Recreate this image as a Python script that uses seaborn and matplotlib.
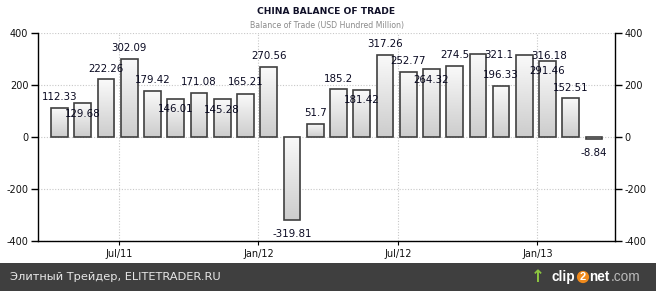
import numpy as np
import pandas as pd
import matplotlib
matplotlib.use("Agg")
import matplotlib.pyplot as plt
import seaborn as sns

months = ["Apr/11", "May/11", "Jun/11", "Jul/11", "Aug/11", "Sep/11", "Oct/11", "Nov/11",
          "Dec/11", "Jan/12", "Feb/12", "Mar/12", "Apr/12", "May/12", "Jun/12", "Jul/12",
          "Aug/12", "Sep/12", "Oct/12", "Nov/12", "Dec/12", "Jan/13", "Feb/13", "Mar/13"]
balance = [112.33, 129.68, 222.26, 302.09, 179.42, 146.01, 171.08, 145.28,
           165.21, 270.56, -319.81, 51.7, 185.2, 181.42, 317.26, 252.77,
           264.32, 274.5, 321.1, 196.33, 316.18, 291.46, 152.51, -8.84]
tick_labels = ["Jul/11", "Jan/12", "Jul/12", "Jan/13"]
y_ticks = [-400, -200, 0, 200, 400]

# label placement (pixels, down positive) - layout only
label_dy = [-11, 11, -10, -10.5, -11, 10, -10.5, 11, -12, -11, 14, -10.5,
            -10, 10, -10.5, -11, 11, -10.5, 1.5, -11, 1, 10, -10, 14]
label_dx = [0] * 24
label_dx[18] = 21
label_dx[20] = 25

df = pd.DataFrame({"month": months, "balance": balance})

sns.set_style("white")
plt.rcParams['font.family'] = ['DejaVu Sans']

W, H = 656, 291
fig = plt.figure(figsize=(W / 100, H / 100), dpi=100)
ax = fig.add_axes([38/W, 50/H, (615-38)/W, (241-33.3)/H])

sns.barplot(data=df, x="month", y="balance", order=months, width=0.72,
            color="#dddddd", edgecolor="#404040", linewidth=1.2, ax=ax, zorder=3)

# gradient fill
grad = np.linspace(0.80, 0.98, 256).reshape(-1, 1)
for p in ax.patches:
    x0, y0 = p.get_x(), p.get_y()
    w, h = p.get_width(), p.get_height()
    ylo, yhi = min(y0, y0 + h), max(y0, y0 + h)
    im = ax.imshow(grad, cmap="gray", vmin=0, vmax=1, aspect="auto",
                   extent=[x0, x0 + w, yhi, ylo], origin="upper", zorder=2.9,
                   interpolation="bilinear")
    im.set_clip_path(p)
    p.set_facecolor("none")

ax.set_xlim(-0.925, 23.9)
ax.set_ylim(-400, 400)

tick_pos = [months.index(t) - 0.44 for t in tick_labels]
ax.set_xticks(tick_pos)
ax.set_xticklabels(tick_labels)
ax.set_yticks(y_ticks)
ax.set_yticklabels([str(v) for v in y_ticks])
ax.set_xlabel("")
ax.set_ylabel("")

ax.grid(True, color="#c8c8c8", linestyle=(0, (1, 1.5)), linewidth=0.8, zorder=0)
ax.set_axisbelow(True)

for s in ["left", "right", "bottom"]:
    ax.spines[s].set_visible(True)
    ax.spines[s].set_color("black")
    ax.spines[s].set_linewidth(1.0)
ax.spines["top"].set_visible(False)

ax.tick_params(axis="y", which="both", left=True, right=True, labelleft=True, labelright=True,
               direction="out", length=5, width=1, labelsize=7, colors="black", pad=2)
ax.tick_params(axis="x", bottom=True, direction="out", length=3, width=0.8,
               labelsize=7, colors="black", pad=3)
for lab in ax.get_xticklabels() + ax.get_yticklabels():
    lab.set_color("#111111")

for i, v in enumerate(balance):
    ax.annotate(f"{v:g}", xy=(i, v),
                xytext=(label_dx[i] * 0.72, -label_dy[i] * 0.72),
                textcoords="offset points", ha="center", va="center",
                fontsize=7.4, color="#0a0a22", zorder=5)

fig.text(326/W, 1 - 12/H, "CHINA BALANCE OF TRADE", ha="center", va="center",
         fontsize=6.6, fontweight="bold", color="#101028")
fig.text(327/W, 1 - 25.5/H, "Balance of Trade (USD Hundred Million)", ha="center",
         va="center", fontsize=5.6, color="#8a8a8a")

# footer band
fig.patches.append(plt.Rectangle((0, 0), 1, 28/H, transform=fig.transFigure,
                                 facecolor="#3f3f3f", edgecolor="none", zorder=0))
yc = 14/H
fig.text(10/W, yc, "Элитный Трейдер, ELITETRADER.RU", ha="left", va="center",
         fontsize=8.2, color="#e8e8e8")
logo_font = ["Liberation Sans", "DejaVu Sans"]
fig.text(538/W, yc, "\u2191", ha="center", va="center", fontsize=12,
         fontweight="bold", color="#8cc63f", family=["DejaVu Sans"])
fig.text(552/W, yc, "clip", ha="left", va="center", fontsize=9.8,
         fontweight="bold", color="white", family=logo_font)
fig.text(583/W, yc, "2", ha="center", va="center", fontsize=8, fontweight="bold",
         color="white", family=logo_font,
         bbox=dict(boxstyle="circle,pad=0.1", facecolor="#f08a1c", edgecolor="none"))
fig.text(589/W, yc, "net", ha="left", va="center", fontsize=9.8,
         fontweight="bold", color="white", family=logo_font)
fig.text(611/W, yc, ".com", ha="left", va="center", fontsize=9.8, color="#bbbbbb",
         family=logo_font)

fig.savefig("out.png", dpi=100, facecolor="white")
